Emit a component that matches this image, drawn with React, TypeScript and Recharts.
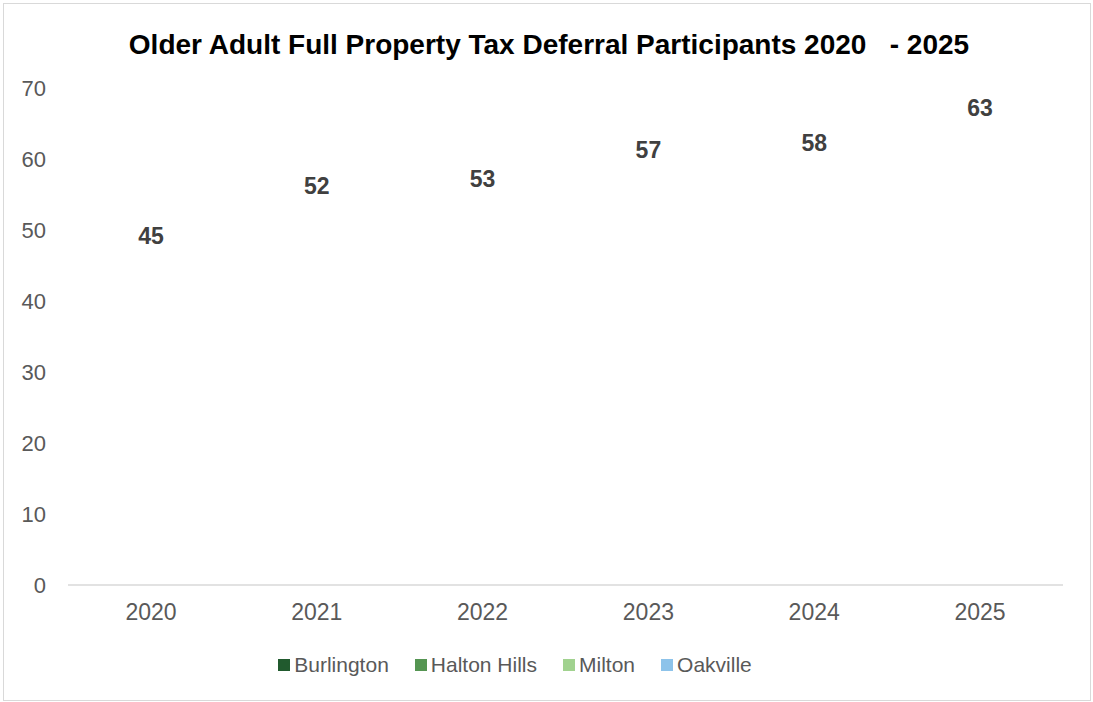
import { ComposedChart, Line, LabelList, XAxis, YAxis, Legend } from "recharts";

const years = ["2020", "2021", "2022", "2023", "2024", "2025"];
const totals = [45, 52, 53, 57, 58, 63];
const municipalities = ["Burlington", "Halton Hills", "Milton", "Oakville"];
const municipalityColors = ["#215a2e", "#559552", "#a1d28f", "#8dc3ea"];
const yTicks = [0, 10, 20, 30, 40, 50, 60, 70];

const data = years.map((year, i) => ({ year, total: totals[i] }));

const font = "'Liberation Sans', Arial, sans-serif";

function LegendContent() {
  return (
    <div
      style={{
        display: "flex",
        justifyContent: "center",
        alignItems: "center",
        height: 24,
        fontFamily: font,
        fontSize: 21,
        color: "#595959",
        paddingRight: 10,
      }}
    >
      {municipalities.map((name, i) => (
        <div key={name} style={{ display: "flex", alignItems: "center", marginRight: 26 }}>
          <span
            style={{
              width: 12,
              height: 12,
              background: municipalityColors[i],
              marginRight: 4,
              display: "inline-block",
            }}
          />
          <span>{name}</span>
        </div>
      ))}
    </div>
  );
}

export default function App() {
  return (
    <div
      style={{
        position: "absolute",
        left: 3,
        top: 3,
        width: 1088,
        height: 698,
        border: "1px solid #d9d9d9",
        boxSizing: "border-box",
        background: "#fff",
        fontFamily: font,
      }}
    >
      <div
        style={{
          position: "absolute",
          top: 27,
          left: 0,
          width: "100%",
          textAlign: "center",
          fontSize: 28,
          lineHeight: 1,
          fontWeight: "bold",
          color: "#000",
          whiteSpace: "pre",
          paddingLeft: 4,
          boxSizing: "border-box",
        }}
      >
        {"Older Adult Full Property Tax Deferral Participants 2020   - 2025"}
      </div>
      <ComposedChart
        width={1088}
        height={698}
        data={data}
        margin={{ top: 85, right: 28, bottom: 24, left: 0 }}
        style={{ position: "absolute", left: -1, top: -1 }}
      >
        <XAxis
          dataKey="year"
          height={68}
          padding={{ left: 83, right: 83 }}
          axisLine={{ stroke: "#d9d9d9", strokeWidth: 1.5 }}
          tickLine={false}
          tickMargin={13}
          tick={{ fill: "#595959", fontSize: 23, fontFamily: font }}
        />
        <YAxis
          width={65}
          domain={[0, 70]}
          ticks={yTicks}
          axisLine={false}
          tickLine={false}
          tickMargin={16}
          tick={{ fill: "#595959", fontSize: 22, fontFamily: font }}
        />
        <Legend verticalAlign="bottom" content={() => <LegendContent />} />
        <Line
          dataKey="total"
          stroke="none"
          dot={false}
          activeDot={false}
          isAnimationActive={false}
        >
          <LabelList
            dataKey="total"
            position="top"
            offset={22}
            fill="#404040"
            fontSize={23}
            fontWeight="bold"
            fontFamily={font}
          />
        </Line>
      </ComposedChart>
    </div>
  );
}
